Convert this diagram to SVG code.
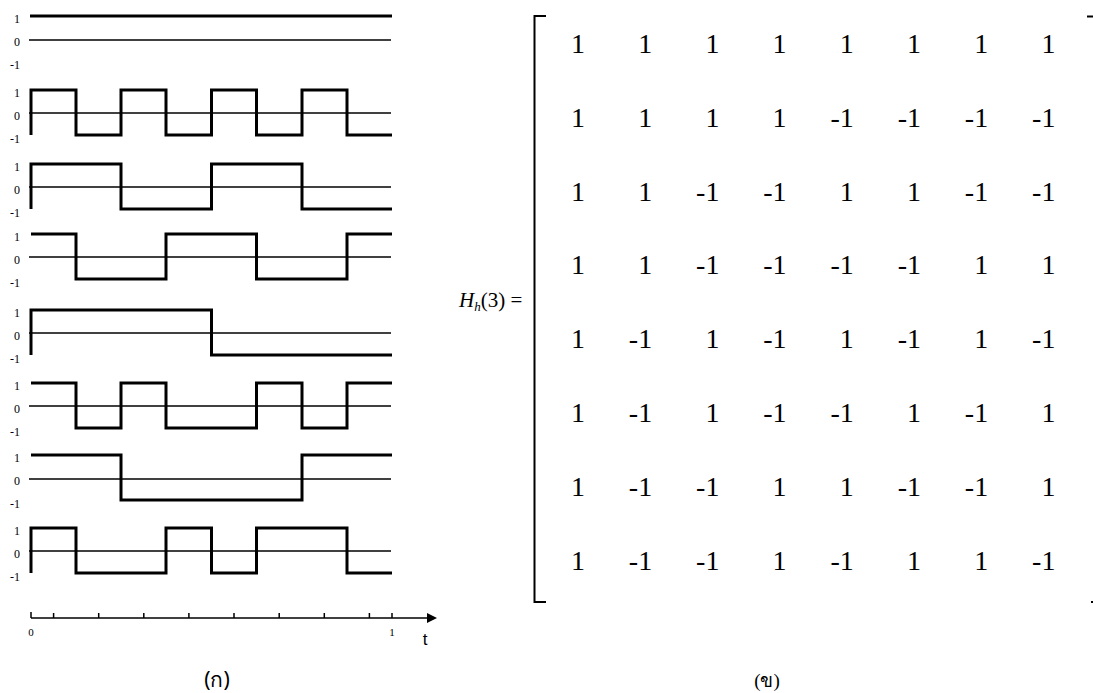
<svg xmlns="http://www.w3.org/2000/svg" width="1093" height="693" viewBox="0 0 1093 693">
  <style>
    .wave { fill: none; stroke: #000; stroke-width: 3; stroke-linejoin: miter; }
    .zero { stroke: #000; stroke-width: 1.5; }
    .tick { stroke: #000; stroke-width: 1.5; }
  </style>
  <rect width="1093" height="693" fill="#fff"/>

  <!-- (a) Walsh functions on [0,1], eight rows -->
  <g id="walsh-waveforms" font-family="'Liberation Serif', 'Times New Roman', serif" font-size="12" text-anchor="end">
    <g id="w0">
      <line class="zero" x1="29" y1="40" x2="391" y2="40"/>
      <path class="wave" d="M30,16 H392"/>
      <text x="20" y="23">1</text><text x="20" y="45.5">0</text><text x="20" y="69">-1</text>
    </g>
    <g id="w1">
      <line class="zero" x1="29" y1="113" x2="391" y2="113"/>
      <path class="wave" d="M31,135 V90 H76 V135 H121 V90 H166 V135 H211.5 V90 H256.5 V135 H302 V90 H347 V135 H392"/>
      <text x="20" y="97">1</text><text x="20" y="119.5">0</text><text x="20" y="143">-1</text>
    </g>
    <g id="w2">
      <line class="zero" x1="29" y1="187" x2="391" y2="187"/>
      <path class="wave" d="M31,209 V164 H121 V209 H211.5 V164 H302 V209 H392"/>
      <text x="20" y="171">1</text><text x="20" y="193.5">0</text><text x="20" y="217">-1</text>
    </g>
    <g id="w3">
      <line class="zero" x1="29" y1="257" x2="391" y2="257"/>
      <path class="wave" d="M31,234 H76 V279 H166 V234 H256.5 V279 H347 V234 H392"/>
      <text x="20" y="241">1</text><text x="20" y="263.5">0</text><text x="20" y="287">-1</text>
    </g>
    <g id="w4">
      <line class="zero" x1="29" y1="333" x2="391" y2="333"/>
      <path class="wave" d="M31,355 V310 H211.5 V355 H392"/>
      <text x="20" y="317">1</text><text x="20" y="339.5">0</text><text x="20" y="363">-1</text>
    </g>
    <g id="w5">
      <line class="zero" x1="29" y1="406" x2="391" y2="406"/>
      <path class="wave" d="M31,383 H76 V428 H121 V383 H166 V428 H256.5 V383 H302 V428 H347 V383 H392"/>
      <text x="20" y="390">1</text><text x="20" y="412.5">0</text><text x="20" y="436">-1</text>
    </g>
    <g id="w6">
      <line class="zero" x1="29" y1="479" x2="391" y2="479"/>
      <path class="wave" d="M31,455 H121 V500 H302 V455 H392"/>
      <text x="20" y="462">1</text><text x="20" y="484.5">0</text><text x="20" y="508">-1</text>
    </g>
    <g id="w7">
      <line class="zero" x1="29" y1="551" x2="391" y2="551"/>
      <path class="wave" d="M31,573 V528 H76 V573 H166 V528 H211.5 V573 H256.5 V528 H347 V573 H392"/>
      <text x="20" y="535">1</text><text x="20" y="557.5">0</text><text x="20" y="581">-1</text>
    </g>
  </g>

  <!-- time axis -->
  <g id="time-axis">
    <line class="tick" x1="31" y1="618" x2="430" y2="618"/>
    <polygon points="427,613 437,618 427,623" fill="#000"/>
    <path class="tick" d="M31,612 V618 M53.6,613 V618 M98.7,613 V618 M143.8,613 V618 M188.9,613 V618 M234,613 V618 M279.2,613 V618 M324.3,613 V618 M369.4,613 V618 M392,613 V618"/>
    <text x="31" y="636" font-family="'Liberation Serif', serif" font-size="11" text-anchor="middle">0</text>
    <text x="392" y="636" font-family="'Liberation Serif', serif" font-size="11" text-anchor="middle">1</text>
    <text x="425" y="645" font-family="'Liberation Sans', sans-serif" font-size="17" text-anchor="middle">t</text>
  </g>

  <text id="caption-a" x="217" y="687" font-family="'Noto Sans', 'DejaVu Sans', sans-serif" font-size="21" text-anchor="middle">(ก)</text>

  <!-- (b) Hadamard matrix of order 8 -->
  <g id="matrix-label">
    <text x="459" y="307" font-family="'Liberation Serif', serif" font-size="21"><tspan font-style="italic">H</tspan><tspan font-style="italic" font-size="13" dy="4">h</tspan><tspan dy="-4">(3) =</tspan></text>
  </g>
  <g id="brackets" fill="none" stroke="#000" stroke-width="2">
    <path d="M546,16 H534.5 V602 H546"/>
    <path d="M1087,16.5 H1093"/>
    <rect x="1091" y="601" width="2" height="2" fill="#000" stroke="none"/>
  </g>
  <g id="matrix-cells" font-family="'Liberation Serif', 'Times New Roman', serif" font-size="28" text-anchor="end">
    <text y="53"><tspan x="585">1</tspan><tspan x="652.2">1</tspan><tspan x="719.4">1</tspan><tspan x="786.6">1</tspan><tspan x="853.8">1</tspan><tspan x="921">1</tspan><tspan x="988.2">1</tspan><tspan x="1055.4">1</tspan></text>
    <text y="127"><tspan x="585">1</tspan><tspan x="652.2">1</tspan><tspan x="719.4">1</tspan><tspan x="786.6">1</tspan><tspan x="853.8">-1</tspan><tspan x="921">-1</tspan><tspan x="988.2">-1</tspan><tspan x="1055.4">-1</tspan></text>
    <text y="201"><tspan x="585">1</tspan><tspan x="652.2">1</tspan><tspan x="719.4">-1</tspan><tspan x="786.6">-1</tspan><tspan x="853.8">1</tspan><tspan x="921">1</tspan><tspan x="988.2">-1</tspan><tspan x="1055.4">-1</tspan></text>
    <text y="274"><tspan x="585">1</tspan><tspan x="652.2">1</tspan><tspan x="719.4">-1</tspan><tspan x="786.6">-1</tspan><tspan x="853.8">-1</tspan><tspan x="921">-1</tspan><tspan x="988.2">1</tspan><tspan x="1055.4">1</tspan></text>
    <text y="348"><tspan x="585">1</tspan><tspan x="652.2">-1</tspan><tspan x="719.4">1</tspan><tspan x="786.6">-1</tspan><tspan x="853.8">1</tspan><tspan x="921">-1</tspan><tspan x="988.2">1</tspan><tspan x="1055.4">-1</tspan></text>
    <text y="422"><tspan x="585">1</tspan><tspan x="652.2">-1</tspan><tspan x="719.4">1</tspan><tspan x="786.6">-1</tspan><tspan x="853.8">-1</tspan><tspan x="921">1</tspan><tspan x="988.2">-1</tspan><tspan x="1055.4">1</tspan></text>
    <text y="496"><tspan x="585">1</tspan><tspan x="652.2">-1</tspan><tspan x="719.4">-1</tspan><tspan x="786.6">1</tspan><tspan x="853.8">1</tspan><tspan x="921">-1</tspan><tspan x="988.2">-1</tspan><tspan x="1055.4">1</tspan></text>
    <text y="570"><tspan x="585">1</tspan><tspan x="652.2">-1</tspan><tspan x="719.4">-1</tspan><tspan x="786.6">1</tspan><tspan x="853.8">-1</tspan><tspan x="921">1</tspan><tspan x="988.2">1</tspan><tspan x="1055.4">-1</tspan></text>
  </g>

  <text id="caption-b" x="767" y="687" font-family="'Liberation Serif', 'Noto Sans', serif" font-size="19" text-anchor="middle">(ข)</text>
</svg>
